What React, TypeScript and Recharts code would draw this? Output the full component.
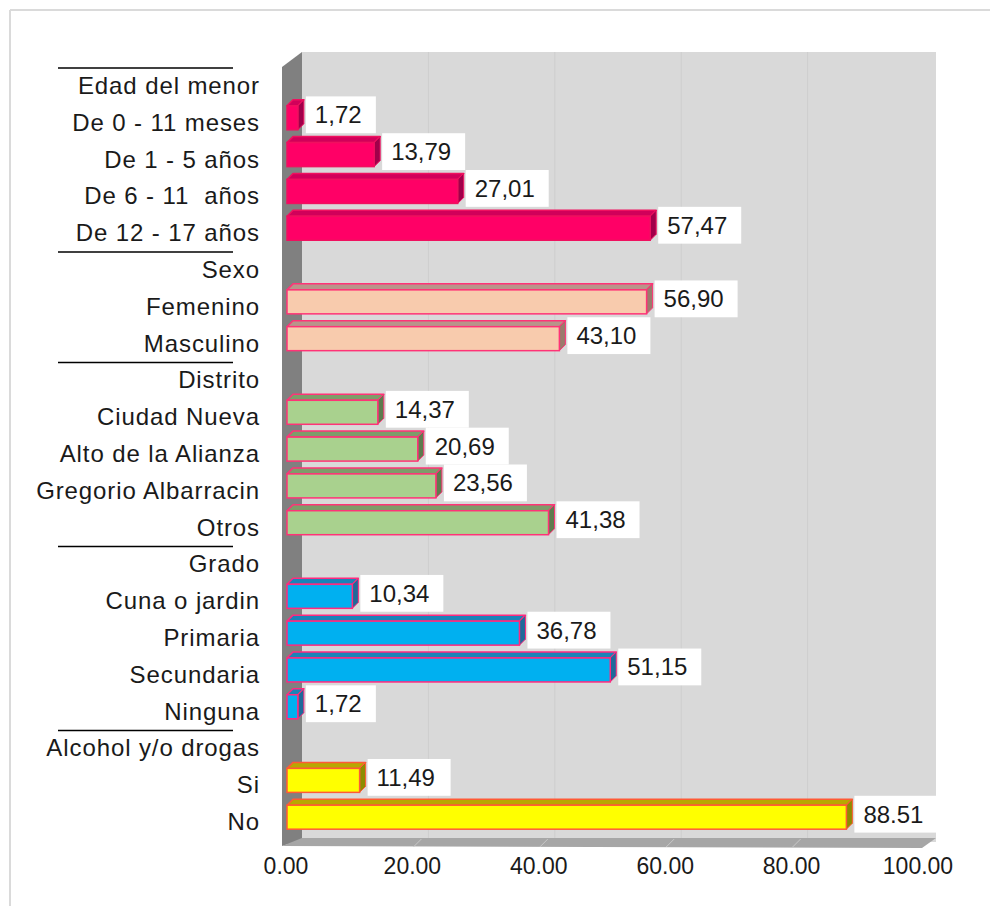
import React from 'react';
import { Bar, BarChart, LabelList, XAxis, YAxis } from 'recharts';

// Horizontal "3D" bar chart: profile of the minors by group (%).
// Group headers sit on their own rows with no bar and a rule above them.

const CATEGORIES = [
  'Edad del menor',
  'De 0 - 11 meses',
  'De 1 - 5 años',
  'De 6 - 11  años',
  'De 12 - 17 años',
  'Sexo',
  'Femenino',
  'Masculino',
  'Distrito',
  'Ciudad Nueva',
  'Alto de la Alianza',
  'Gregorio Albarracin',
  'Otros',
  'Grado',
  'Cuna o jardin',
  'Primaria',
  'Secundaria',
  'Ninguna',
  'Alcohol y/o drogas',
  'Si',
  'No',
];

const VALUES: (number | null)[] = [
  null, 1.72, 13.79, 27.01, 57.47,
  null, 56.9, 43.1,
  null, 14.37, 20.69, 23.56, 41.38,
  null, 10.34, 36.78, 51.15, 1.72,
  null, 11.49, 88.51,
];

const VALUE_TEXT = [
  '', '1,72', '13,79', '27,01', '57,47',
  '', '56,90', '43,10',
  '', '14,37', '20,69', '23,56', '41,38',
  '', '10,34', '36,78', '51,15', '1,72',
  '', '11,49', '88.51',
];

const GROUP_OF_ROW = [0, 0, 0, 0, 0, 1, 1, 1, 2, 2, 2, 2, 2, 3, 3, 3, 3, 3, 4, 4, 4];
const HEADER_ROWS = [0, 5, 8, 13, 18];
const X_TICKS = [0, 20, 40, 60, 80, 100];

// front / top / side / outline per group
const PALETTE = [
  { front: '#FF0066', top: '#D1005A', side: '#A0004A', stroke: '#F0105F' },
  { front: '#F8CBAD', top: '#B8948A', side: '#9A7B6C', stroke: '#FF3377' },
  { front: '#A9D18E', top: '#7E9C6A', side: '#5E7B4E', stroke: '#FF3377' },
  { front: '#00B0F0', top: '#1A83B8', side: '#1F6A9A', stroke: '#FF2A7F' },
  { front: '#FFFF00', top: '#B8A800', side: '#8C8C00', stroke: '#FF5A36' },
];

const data = CATEGORIES.map((name, i) => ({
  name,
  value: VALUES[i],
  text: VALUE_TEXT[i],
  group: GROUP_OF_ROW[i],
}));

const W = 990;
const H = 898;
const PLOT_LEFT = 279;
const PLOT_RIGHT = 911;
const PLOT_TOP = 55;
const PLOT_BOTTOM = 828;
const X_AXIS_H = 40;
const BAND = (PLOT_BOTTOM - PLOT_TOP) / CATEGORIES.length;
const DEPTH = 6; // bar bevel
const WALL_DX = 20;
const WALL_DY = 15;
const FONT = '"Liberation Sans", Arial, sans-serif';
const TEXT = '#1a1a1a';

const Bar3D = (props: any) => {
  const { x, y, width, height, payload } = props;
  if (payload.value == null || !width || width <= 0) return null;
  const c = PALETTE[payload.group];
  const d = DEPTH;
  const r = x + width;
  return (
    <g>
      <polygon
        points={`${x},${y} ${x + d},${y - d} ${r + d},${y - d} ${r},${y}`}
        fill={c.top}
        stroke={c.stroke}
        strokeWidth={1.5}
        strokeLinejoin="round"
      />
      <polygon
        points={`${r},${y} ${r + d},${y - d} ${r + d},${y + height - d} ${r},${y + height}`}
        fill={c.side}
        stroke={c.stroke}
        strokeWidth={1}
      />
      <rect x={x} y={y} width={width} height={height} fill={c.front} stroke={c.stroke} strokeWidth={1.5} />
    </g>
  );
};

const ValueLabel = (props: any) => {
  const { x, y, width, height, value } = props;
  const txt = value == null ? '' : String(value);
  if (!txt) return null;
  const w = txt.length * 13 + 18;
  const bx = x + width + DEPTH + 2;
  const cy = y + height / 2 - 3;
  return (
    <g>
      <rect x={bx} y={cy - BAND / 2} width={w} height={BAND} fill="#ffffff" />
      <text
        x={bx + 9}
        y={cy}
        dominantBaseline="central"
        fontFamily={FONT}
        fontSize={24}
        fill={TEXT}
      >
        {txt}
      </text>
    </g>
  );
};

const CategoryTick = (props: any) => {
  const { y, payload } = props;
  const i = payload.index;
  const header = HEADER_ROWS.includes(i);
  const ly = y - BAND / 2 + 5;
  return (
    <g>
      {header && <line x1={50} x2={225} y1={ly} y2={ly} stroke="#000" strokeWidth={1.5} />}
      <text
        x={252}
        y={y + 4}
        textAnchor="end"
        dominantBaseline="central"
        fontFamily={FONT}
        fontSize={24}
        letterSpacing={0.9}
        fill={TEXT}
        style={{ whiteSpace: 'pre' }}
      >
        {payload.value}
      </text>
    </g>
  );
};

const ValueTick = (props: any) => {
  const { x, payload } = props;
  return (
    <text
      x={x - 1}
      y={PLOT_BOTTOM + 30}
      textAnchor="middle"
      dominantBaseline="central"
      fontFamily={FONT}
      fontSize={23}
      fill={TEXT}
    >
      {Number(payload.value).toFixed(2)}
    </text>
  );
};

// walls and floor sit behind the transparent chart svg
const Backdrop = () => {
  const k = (PLOT_RIGHT - PLOT_LEFT) / 100;
  const wl = PLOT_LEFT - 5;
  const backL = wl + WALL_DX;
  const backTop = PLOT_TOP - 11;
  const backR = PLOT_RIGHT + 17;
  const floorY = PLOT_BOTTOM + 6;
  return (
    <svg width={W} height={H} style={{ position: 'absolute', left: 0, top: 0 }}>
      <line x1={2} y1={2} x2={W} y2={2} stroke="#dadada" strokeWidth={2} />
      <line x1={2} y1={2} x2={2} y2={H} stroke="#dadada" strokeWidth={2} />
      <rect x={backL} y={backTop} width={backR - backL} height={floorY - backTop} fill="#d9d9d9" />
      {X_TICKS.slice(1, -1).map((t) => (
        <line
          key={t}
          x1={backL + t * k}
          x2={backL + t * k}
          y1={backTop}
          y2={floorY}
          stroke="#cecece"
          strokeWidth={1}
        />
      ))}
      <polygon
        points={`${wl},${backTop + WALL_DY} ${backL},${backTop} ${backL},${floorY - 2} ${wl},${floorY + 4}`}
        fill="#808080"
      />
      <polygon
        points={`${wl},${floorY + 4} ${backL},${floorY - 4} ${backR},${floorY - 4} ${backR - 14},${floorY + 6}`}
        fill="#a6a6a6"
      />
      {X_TICKS.slice(1, -1).map((t) => (
        <line
          key={`f${t}`}
          x1={PLOT_LEFT + t * k}
          x2={PLOT_LEFT + t * k + 8}
          y1={floorY + 5}
          y2={floorY - 3}
          stroke="#c8c8c8"
          strokeWidth={1}
        />
      ))}
    </svg>
  );
};

export default function App() {
  return (
    <div style={{ position: 'relative', width: W, height: H, background: '#ffffff' }}>
      <Backdrop />
      <div style={{ position: 'absolute', left: 0, top: 0 }}>
        <BarChart
          width={W}
          height={H}
          layout="vertical"
          data={data}
          margin={{ top: PLOT_TOP, right: W - PLOT_RIGHT, left: 0, bottom: H - PLOT_BOTTOM - X_AXIS_H }}
          barSize={24}
        >
          <XAxis
            type="number"
            domain={[0, 100]}
            ticks={X_TICKS}
            height={X_AXIS_H}
            axisLine={false}
            tickLine={false}
            tick={<ValueTick />}
            interval={0}
          />
          <YAxis
            type="category"
            dataKey="name"
            width={PLOT_LEFT}
            axisLine={false}
            tickLine={false}
            tick={<CategoryTick />}
            interval={0}
          />
          <Bar dataKey="value" shape={<Bar3D />} isAnimationActive={false}>
            <LabelList dataKey="text" content={<ValueLabel />} />
          </Bar>
        </BarChart>
      </div>
    </div>
  );
}
